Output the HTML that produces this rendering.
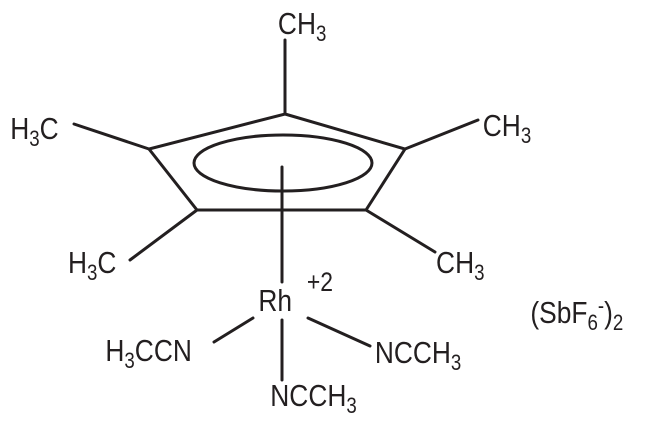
<!DOCTYPE html>
<html><head><style>html,body{margin:0;padding:0;background:#fff}svg{display:block}</style></head><body>
<svg width="650" height="422" viewBox="0 0 650 422" xmlns="http://www.w3.org/2000/svg" font-family="Liberation Sans, sans-serif" font-size="31" fill="#231f20">
<g stroke="#231f20" stroke-width="3" fill="none" stroke-linecap="round">
<polygon points="285,114 405,149 366,210 197,210 149,149" stroke-linejoin="miter"/>
<line x1="285" y1="40" x2="285" y2="114"/>
<line x1="74" y1="124" x2="149" y2="149"/>
<line x1="405" y1="149" x2="478" y2="120"/>
<line x1="197" y1="210" x2="130" y2="260"/>
<line x1="366" y1="210" x2="435" y2="252"/>
<ellipse cx="283" cy="163" rx="89" ry="28"/>
<line x1="282" y1="167" x2="282" y2="282"/>
<line x1="253" y1="318" x2="214" y2="342"/>
<line x1="308" y1="318" x2="370" y2="346"/>
<line x1="282" y1="320" x2="282" y2="380"/>
</g>
<g transform="scale(0.85,1)">
<text x="327" y="34">CH<tspan font-size="22" dy="7">3</tspan></text>
<text x="12" y="139">H<tspan font-size="22" dy="7">3</tspan><tspan dy="-7">C</tspan></text>
<text x="568" y="136">CH<tspan font-size="22" dy="7">3</tspan></text>
<text x="80" y="273">H<tspan font-size="22" dy="7">3</tspan><tspan dy="-7">C</tspan></text>
<text x="513" y="273">CH<tspan font-size="22" dy="7">3</tspan></text>
<text x="304" y="311">Rh</text>
<text x="361" y="291" font-size="27">+2</text>
<text x="124" y="361">H<tspan font-size="22" dy="7">3</tspan><tspan dy="-7">CCN</tspan></text>
<text x="441" y="363">NCCH<tspan font-size="22" dy="7">3</tspan></text>
<text x="318" y="406">NCCH<tspan font-size="22" dy="7">3</tspan></text>
<text x="624" y="323">(SbF<tspan font-size="22" dy="7">6</tspan><tspan font-size="22" dy="-17">-</tspan><tspan dy="10">)</tspan><tspan font-size="22" dy="7">2</tspan></text>
</g>
</svg>
</body></html>
